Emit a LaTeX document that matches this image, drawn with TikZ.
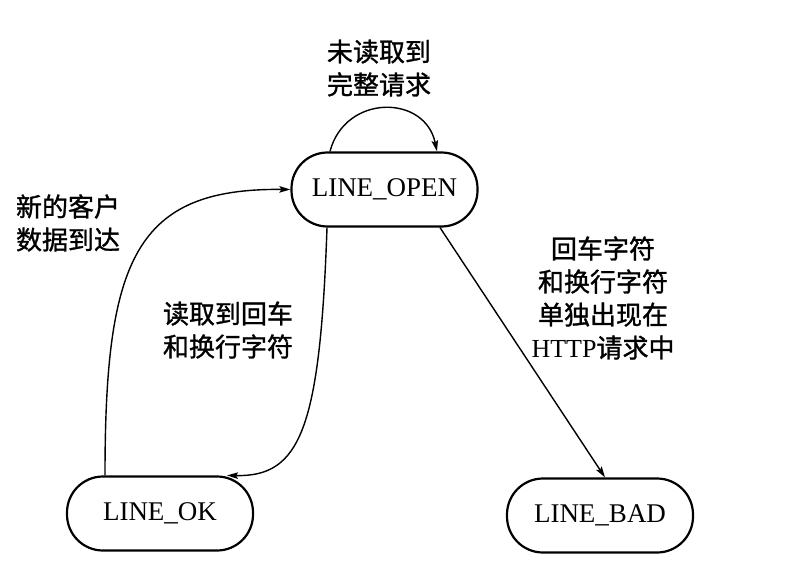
\documentclass[tikz,border=0pt]{standalone}
\usepackage{fontspec}
\setmainfont{Liberation Serif}
\newfontfamily\cjk[FakeBold=1.2]{Noto Sans CJK SC}
\usetikzlibrary{arrows.meta}
\tikzset{
  state/.style={draw, line width=2.2pt, rounded corners=36pt, inner sep=0pt,
    minimum width=186pt, minimum height=74pt, font=\fontsize{27}{30}\selectfont},
  conn/.style={line width=1.4pt, -{Stealth[length=11pt,width=6.5pt,inset=2pt]}},
  lbl/.style={align=center, inner sep=0pt, font=\cjk\fontsize{26}{33}\selectfont}
}
\begin{document}
\begin{tikzpicture}[x=1pt,y=-1pt]
\useasboundingbox (0,0) rectangle (811,567);
\node[state] (open) at (384.5,189.5) {LINE\_OPEN};
\node[state] (ok) at (160,513.5) {LINE\_OK};
\node[state] (bad) at (600,515.5) {LINE\_BAD};

\node[lbl] (lt) at (379,68) {未读取到\\完整请求};
\node[lbl] (ll) at (68,223) {新的客户\\数据到达};
\node[lbl] (lm) at (228,330) {读取到回车\\和换行字符};
\node[lbl] (lr) at (603,298) {回车字符\\和换行字符\\单独出现在\\{\rmfamily HTTP}请求中};

\draw[conn] ([xshift=-54.5pt]open.north) .. controls (345,94) and (425,94) .. ([xshift=52.5pt]open.north);
\draw[conn] ([xshift=-55pt]ok.north) .. controls (105,260) and (135,188) .. (open.west);
\draw[conn] ([xshift=-57.5pt]open.south) .. controls (320,430) and (300,477) .. ([xshift=67pt]ok.north);
\draw[conn] ([xshift=55.5pt]open.south) -- ([xshift=5pt]bad.north);
\end{tikzpicture}
\end{document}
